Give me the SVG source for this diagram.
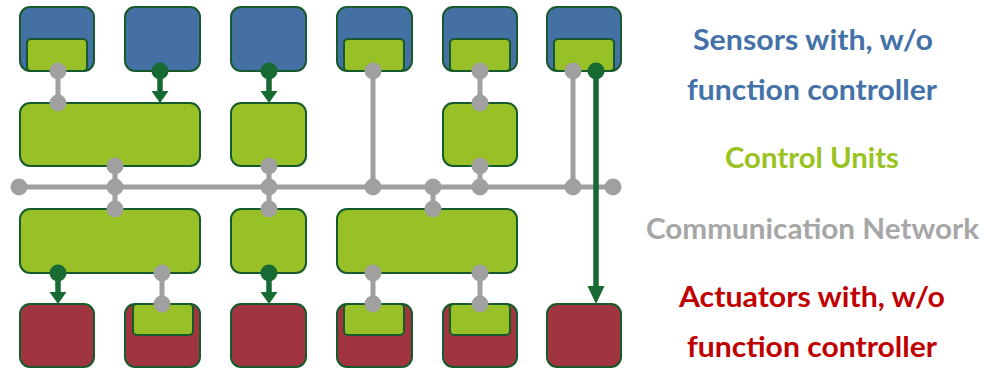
<svg xmlns="http://www.w3.org/2000/svg" width="984" height="368" viewBox="0 0 984 368">
  <style>
    .sensor { fill: #4470A4; stroke: #175A2C; stroke-width: 2; }
    .unit { fill: #97C126; stroke: #175A2C; stroke-width: 2; }
    .actuator { fill: #A1353F; stroke: #175A2C; stroke-width: 2; }
    .inner { fill: #97C126; stroke: #175A2C; stroke-width: 2; }
    .net { stroke: #A0A0A0; stroke-width: 5; fill: none; }
    .netdot { fill: #A0A0A0; }
    .sig { stroke: #186A33; stroke-width: 5.5; fill: none; }
    .sigdot, .head { fill: #186A33; }
    .lbl { font-family: Lato, "Open Sans", "Liberation Sans", sans-serif; font-weight: bold; font-size: 28px; text-anchor: middle; }
  </style>

  <!-- Sensors -->
  <g id="sensor-1"><rect class="sensor" x="20" y="7" width="74" height="64" rx="10"/><rect class="inner" x="27" y="39" width="60" height="32" rx="4"/></g>
  <g id="sensor-2"><rect class="sensor" x="125" y="7" width="75" height="64" rx="10"/></g>
  <g id="sensor-3"><rect class="sensor" x="231" y="7" width="75" height="64" rx="10"/></g>
  <g id="sensor-4"><rect class="sensor" x="337" y="7" width="75" height="64" rx="10"/><rect class="inner" x="344" y="39" width="60" height="32" rx="4"/></g>
  <g id="sensor-5"><rect class="sensor" x="443" y="7" width="74" height="64" rx="10"/><rect class="inner" x="450" y="39" width="60" height="32" rx="4"/></g>
  <g id="sensor-6"><rect class="sensor" x="547" y="7" width="74" height="64" rx="10"/><rect class="inner" x="554" y="39" width="60" height="32" rx="4"/></g>

  <!-- Control units -->
  <g id="unit-1"><rect class="unit" x="20" y="103" width="180" height="63" rx="10"/></g>
  <g id="unit-2"><rect class="unit" x="231" y="103" width="75" height="63" rx="10"/></g>
  <g id="unit-3"><rect class="unit" x="443" y="103" width="74" height="63" rx="10"/></g>
  <g id="unit-4"><rect class="unit" x="20" y="209" width="180" height="64" rx="10"/></g>
  <g id="unit-5"><rect class="unit" x="231" y="209" width="75" height="64" rx="10"/></g>
  <g id="unit-6"><rect class="unit" x="337" y="209" width="180" height="64" rx="10"/></g>

  <!-- Actuators -->
  <g id="actuator-1"><rect class="actuator" x="20" y="304" width="74" height="63" rx="10"/></g>
  <g id="actuator-2"><rect class="actuator" x="125" y="304" width="75" height="63" rx="10"/><rect class="inner" x="133" y="304" width="60" height="31" rx="4"/></g>
  <g id="actuator-3"><rect class="actuator" x="231" y="304" width="75" height="63" rx="10"/></g>
  <g id="actuator-4"><rect class="actuator" x="337" y="304" width="75" height="63" rx="10"/><rect class="inner" x="344" y="304" width="60" height="31" rx="4"/></g>
  <g id="actuator-5"><rect class="actuator" x="443" y="304" width="74" height="63" rx="10"/><rect class="inner" x="450" y="304" width="60" height="31" rx="4"/></g>
  <g id="actuator-6"><rect class="actuator" x="547" y="304" width="74" height="63" rx="10"/></g>

  <!-- Connectors -->
  <g id="connectors">
    <!-- network bus and links -->
    <path class="net" d="M19 187H613
      M58 71V103
      M115 166V209
      M269 166V209
      M373 71V187
      M480 71V103
      M480 166V187
      M433 187V209
      M573 71V187
      M162 273V304
      M373 273V304
      M480 273V304"/>
    <g class="netdot">
      <circle cx="19" cy="187" r="8.5"/><circle cx="613" cy="187" r="8.5"/>
      <circle cx="58" cy="71" r="8.5"/><circle cx="58" cy="103" r="8.5"/>
      <circle cx="115" cy="166" r="8.5"/><circle cx="115" cy="187" r="8.5"/><circle cx="115" cy="209" r="8.5"/>
      <circle cx="269" cy="166" r="8.5"/><circle cx="269" cy="187" r="8.5"/><circle cx="269" cy="209" r="8.5"/>
      <circle cx="373" cy="71" r="8.5"/><circle cx="373" cy="187" r="8.5"/>
      <circle cx="433" cy="187" r="8.5"/><circle cx="433" cy="209" r="8.5"/>
      <circle cx="480" cy="71" r="8.5"/><circle cx="480" cy="103" r="8.5"/>
      <circle cx="480" cy="166" r="8.5"/><circle cx="480" cy="187" r="8.5"/>
      <circle cx="573" cy="71" r="8.5"/><circle cx="573" cy="187" r="8.5"/>
      <circle cx="162" cy="273" r="8.5"/><circle cx="162" cy="304" r="8.5"/>
      <circle cx="373" cy="273" r="8.5"/><circle cx="373" cy="304" r="8.5"/>
      <circle cx="480" cy="273" r="8.5"/><circle cx="480" cy="304" r="8.5"/>
    </g>
    <!-- direct signal wires -->
    <path class="sig" d="M160 71V92 M269 71V92 M58 273V294 M269 273V294 M596 71V288"/>
    <g class="sigdot">
      <circle cx="160" cy="71" r="8.5"/><circle cx="269" cy="71" r="8.5"/>
      <circle cx="58" cy="273" r="8.5"/><circle cx="269" cy="273" r="8.5"/>
      <circle cx="596" cy="71" r="8.5"/>
    </g>
    <g class="head">
      <polygon points="151.5,91 168.5,91 160,103"/>
      <polygon points="260.5,91 277.5,91 269,103"/>
      <polygon points="49.5,292 66.5,292 58,304"/>
      <polygon points="260.5,292 277.5,292 269,304"/>
      <polygon points="587.5,286 604.5,286 596,304"/>
    </g>
  </g>

  <!-- Legend -->
  <g id="legend" class="lbl">
    <text x="813" y="50" fill="#4472A8" textLength="240" lengthAdjust="spacingAndGlyphs">Sensors with, w/o</text>
    <text x="812" y="100" fill="#4472A8" textLength="250" lengthAdjust="spacingAndGlyphs">function controller</text>
    <text x="812" y="168" fill="#9AC221" textLength="174" lengthAdjust="spacingAndGlyphs">Control Units</text>
    <text x="812.5" y="239" fill="#A6A6A6" textLength="333" lengthAdjust="spacingAndGlyphs">Communication Network</text>
    <text x="812" y="307" fill="#C00000" textLength="266" lengthAdjust="spacingAndGlyphs">Actuators with, w/o</text>
    <text x="812" y="357" fill="#C00000" textLength="250" lengthAdjust="spacingAndGlyphs">function controller</text>
  </g>
</svg>
